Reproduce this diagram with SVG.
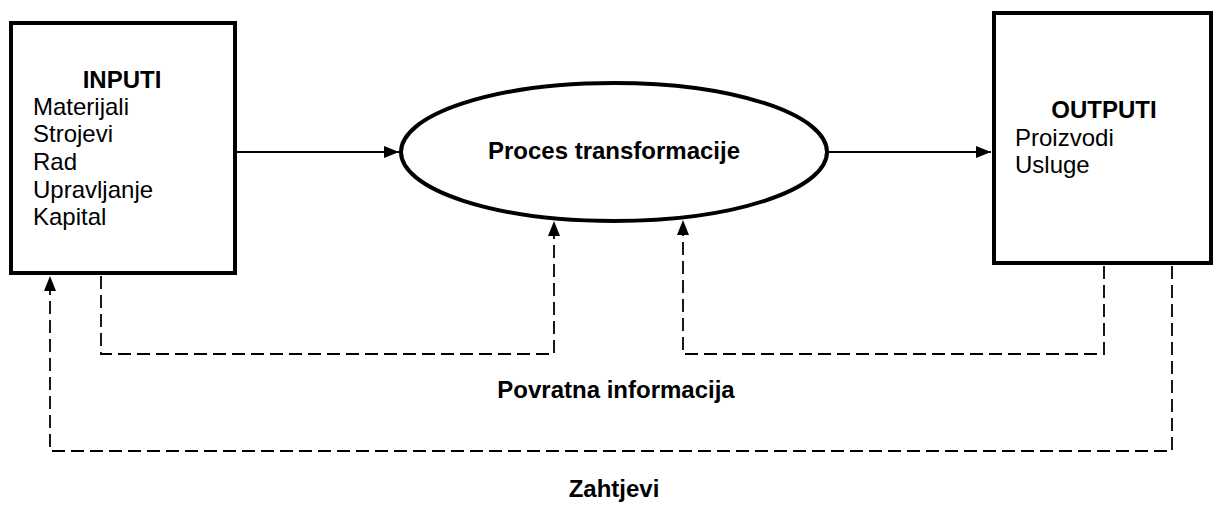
<svg xmlns="http://www.w3.org/2000/svg" width="1215" height="505" viewBox="0 0 1215 505">
  <style>
    .box { fill: #fff; stroke: #000; stroke-width: 4; }
    .t { font-family: "Liberation Sans", Arial, sans-serif; font-size: 24px; fill: #000; }
    .b { font-weight: bold; }
    .solid { fill: none; stroke: #000; stroke-width: 1.8; }
    .dash { fill: none; stroke: #000; stroke-width: 1.8; stroke-dasharray: 13 6; }
  </style>
  <defs>
    <marker id="ah" markerUnits="userSpaceOnUse" markerWidth="15" markerHeight="15" viewBox="0 0 15 15" refX="15" refY="7.5" orient="auto">
      <path d="M0,1.5 L15,7.5 L0,13.5 Z" fill="#000"/>
    </marker>
  </defs>
  <rect width="1215" height="505" fill="#fff"/>

  <g id="connectors">
    <line class="solid" x1="237" y1="152" x2="399" y2="152" marker-end="url(#ah)"/>
    <line class="solid" x1="829" y1="152" x2="991" y2="152" marker-end="url(#ah)"/>
    <path class="dash" d="M101,276 V354 H554 V221" marker-end="url(#ah)"/>
    <path class="dash" d="M1104,266 V354 H683 V220" marker-end="url(#ah)"/>
    <path class="dash" d="M1172,266 V451 H50 V276" marker-end="url(#ah)"/>
  </g>

  <g id="inputi">
    <rect class="box" x="11" y="23" width="224" height="250"/>
    <text class="t b" x="122" y="88" text-anchor="middle">INPUTI</text>
    <text class="t" x="33" y="115">Materijali</text>
    <text class="t" x="33" y="142">Strojevi</text>
    <text class="t" x="33" y="170">Rad</text>
    <text class="t" x="33" y="198">Upravljanje</text>
    <text class="t" x="33" y="225">Kapital</text>
  </g>

  <g id="proces">
    <ellipse class="box" cx="614" cy="152" rx="213" ry="69"/>
    <text class="t b" x="614" y="159" text-anchor="middle">Proces transformacije</text>
  </g>

  <g id="outputi">
    <rect class="box" x="994" y="13" width="217" height="250"/>
    <text class="t b" x="1104" y="118" text-anchor="middle">OUTPUTI</text>
    <text class="t" x="1015" y="146">Proizvodi</text>
    <text class="t" x="1015" y="173">Usluge</text>
  </g>

  <g id="labels">
    <text class="t b" x="616" y="398" text-anchor="middle">Povratna informacija</text>
    <text class="t b" x="614" y="497" text-anchor="middle">Zahtjevi</text>
  </g>
</svg>
